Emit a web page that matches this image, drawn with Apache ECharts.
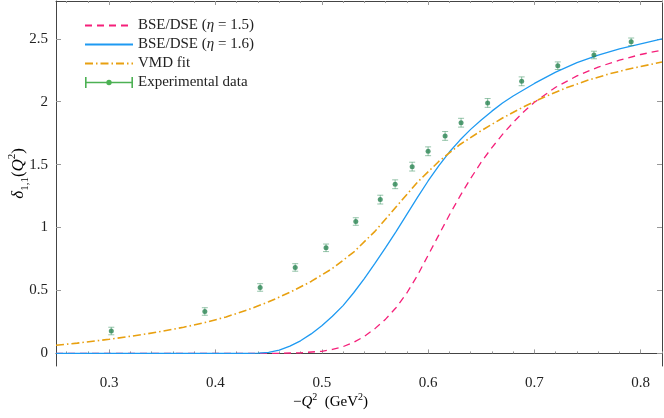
<!DOCTYPE html>
<html>
<head>
<meta charset="utf-8">
<title>delta11</title>
<script src="https://cdn.jsdelivr.net/npm/echarts@6/dist/echarts.min.js"></script>
</head>
<body style="margin:0">
<div id="main" style="width:664px;height:418px;"></div>
<script>
// tick positions
var xTicks = [0.3, 0.4, 0.5, 0.6, 0.7, 0.8];
var xMinorTicks = [0.26, 0.28, 0.32, 0.34, 0.36, 0.38, 0.42, 0.44, 0.46, 0.48, 0.52, 0.54, 0.56, 0.58,
                   0.62, 0.64, 0.66, 0.68, 0.72, 0.74, 0.76, 0.78, 0.82];
var yTicks = [0, 0.5, 1, 1.5, 2, 2.5];

// BSE/DSE eta = 1.5 (pink dashed)
var pinkX = [0.25, 0.30, 0.35, 0.40, 0.44, 0.46, 0.48, 0.50, 0.51, 0.52, 0.53, 0.54, 0.55, 0.56, 0.57, 0.58, 0.59,
             0.60, 0.61, 0.62, 0.63, 0.64, 0.65, 0.66, 0.67, 0.68, 0.69, 0.70, 0.72, 0.74, 0.76, 0.78, 0.80, 0.82];
var pinkY = [0, 0, 0, 0, 0, 0.001, 0.005, 0.017, 0.032, 0.054, 0.088, 0.135, 0.197, 0.272, 0.365, 0.48, 0.62,
             0.78, 0.94, 1.10, 1.25, 1.39, 1.52, 1.635, 1.74, 1.835, 1.92, 1.995, 2.115, 2.205, 2.275, 2.33, 2.375, 2.41];

// BSE/DSE eta = 1.6 (blue solid)
var blueX = [0.25, 0.30, 0.35, 0.40, 0.43, 0.44, 0.45, 0.46, 0.47, 0.48, 0.49, 0.50, 0.51, 0.52, 0.53, 0.54, 0.55,
             0.56, 0.57, 0.58, 0.59, 0.60, 0.61, 0.62, 0.63, 0.64, 0.65, 0.66, 0.67, 0.68, 0.69, 0.70, 0.72,
             0.74, 0.76, 0.78, 0.80, 0.82];
var blueY = [0, 0, 0, 0, 0, 0.002, 0.008, 0.026, 0.058, 0.1, 0.155, 0.22, 0.295, 0.38, 0.482, 0.595, 0.715,
             0.84, 0.97, 1.105, 1.24, 1.37, 1.49, 1.60, 1.695, 1.78, 1.855, 1.925, 1.99, 2.045, 2.095, 2.145, 2.235,
             2.31, 2.37, 2.42, 2.46, 2.50];

// VMD fit (orange dash-dot)
var vmdX = [0.25, 0.27, 0.30, 0.33, 0.35, 0.37, 0.39, 0.41, 0.43, 0.45, 0.47, 0.49, 0.51, 0.53, 0.55, 0.57,
            0.59, 0.61, 0.63, 0.65, 0.67, 0.69, 0.71, 0.73, 0.75, 0.77, 0.79, 0.82];
var vmdY = [0.065, 0.082, 0.112, 0.148, 0.176, 0.208, 0.245, 0.29, 0.345, 0.41, 0.485, 0.572, 0.675, 0.805, 0.97, 1.165,
            1.36, 1.525, 1.66, 1.77, 1.87, 1.96, 2.04, 2.11, 2.17, 2.22, 2.262, 2.315];

// Experimental data
var expX = [0.302, 0.390, 0.442, 0.475, 0.504, 0.532, 0.555, 0.569, 0.585, 0.600, 0.616, 0.631, 0.656,
            0.688, 0.722, 0.756, 0.791];
var expY = [0.178, 0.333, 0.524, 0.683, 0.839, 1.048, 1.222, 1.344, 1.484, 1.606, 1.728, 1.833, 1.990,
            2.162, 2.286, 2.371, 2.476];
var expErr = [0.03, 0.03, 0.03, 0.03, 0.03, 0.03, 0.035, 0.035, 0.035, 0.035, 0.035, 0.035, 0.035,
              0.035, 0.03, 0.03, 0.03];

function pairs(xs, ys) {
    return xs.map(function (x, i) { return [x, ys[i]]; });
}

var font = 'Liberation Serif';
var tickColor = '#999';
var lineColor = '#444';

function fmt(v) { return String(+v.toFixed(2)); }

function xAxisDef(position, values, len, labels) {
    return {
        type: 'value', min: 0.25, max: 0.82, position: position,
        axisLine: { show: labels, lineStyle: { color: lineColor, width: 1 } },
        axisTick: { show: true, inside: true, length: len, customValues: values,
                    lineStyle: { color: tickColor } },
        axisLabel: { show: labels && position === 'bottom', customValues: values, formatter: fmt,
                     fontFamily: font, fontSize: 15, color: '#222', margin: 10 },
        splitLine: { show: false }
    };
}

function yAxisDef(position, labels) {
    return {
        type: 'value', min: -0.1, max: 2.8, position: position,
        axisLine: { show: true, lineStyle: { color: lineColor, width: 1 } },
        axisTick: { show: true, inside: true, length: 5, customValues: yTicks,
                    lineStyle: { color: tickColor } },
        axisLabel: { show: labels, customValues: yTicks, formatter: fmt,
                     fontFamily: font, fontSize: 15, color: '#222', margin: 8 },
        splitLine: { show: false }
    };
}

var errData = expX.map(function (x, i) { return [x, expY[i] - expErr[i], expY[i] + expErr[i]]; });

var chart = echarts.init(document.getElementById('main'));
chart.setOption({
    animation: false,
    backgroundColor: '#fff',
    grid: { left: 56, top: 1, right: 2, bottom: 52, containLabel: false },
    xAxis: [
        xAxisDef('bottom', xTicks, 4, true),
        xAxisDef('bottom', xMinorTicks, 2, false),
        xAxisDef('top', xTicks, 4, true),
        xAxisDef('top', xMinorTicks, 2, false)
    ],
    yAxis: [yAxisDef('left', true), yAxisDef('right', false)],
    legend: {
        left: 84, top: 18, orient: 'vertical', padding: 0,
        itemWidth: 48, itemHeight: 14, itemGap: 4,
        symbolKeepAspect: true,
        textStyle: {
            fontFamily: font, fontSize: 15, color: '#222',
            rich: { i: { fontFamily: font, fontStyle: 'italic', fontSize: 15, color: '#222' } }
        },
        formatter: function (name) { return name.replace('η', '{i|η}'); },
        data: [
            { name: 'BSE/DSE (η = 1.5)', itemStyle: { opacity: 0 } },
            { name: 'BSE/DSE (η = 1.6)', itemStyle: { opacity: 0 } },
            { name: 'VMD fit', itemStyle: { opacity: 0 } },
            { name: 'Experimental data',
              icon: 'path://M0,1.5h1.6v11h-1.6z M0,6.2h48v1.6h-48z M46.4,1.5h1.6v11h-1.6z M21.3,7a2.7,2.7 0 1,1 5.4,0a2.7,2.7 0 1,1 -5.4,0z',
              itemStyle: { color: '#1f9e28' } }
        ]
    },
    graphic: [
        {
            type: 'text', left: 7, top: 148, rotation: Math.PI / 2,
            style: {
                text: '{i|δ}{s|1,1}{n|(}{i|Q}{p|2}{n|)}',
                rich: {
                    n: { fontFamily: font, fontSize: 17, color: '#222', lineHeight: 24 },
                    i: { fontFamily: font, fontStyle: 'italic', fontSize: 17, color: '#222', lineHeight: 24 },
                    s: { fontFamily: font, fontSize: 11, color: '#222', verticalAlign: 'bottom', lineHeight: 24 },
                    p: { fontFamily: font, fontSize: 11, color: '#222', verticalAlign: 'top', lineHeight: 24 }
                }
            }
        },
        {
            type: 'text', left: 293, top: 392,
            style: {
                text: '{n|−}{i|Q}{p|2}{n|  (GeV}{p|2}{n|)}',
                rich: {
                    n: { fontFamily: font, fontSize: 15, color: '#222', lineHeight: 20 },
                    i: { fontFamily: font, fontStyle: 'italic', fontSize: 15, color: '#222', lineHeight: 20 },
                    p: { fontFamily: font, fontSize: 10, color: '#222', verticalAlign: 'top', lineHeight: 20 }
                }
            }
        }
    ],
    series: [
        {
            name: 'BSE/DSE (η = 1.5)', type: 'line', data: pairs(pinkX, pinkY),
            symbol: 'none',
            lineStyle: { color: '#f5207a', width: 1.3, type: [7, 5] },
            itemStyle: { color: '#f5207a' }, z: 3
        },
        {
            name: 'BSE/DSE (η = 1.6)', type: 'line', data: pairs(blueX, blueY),
            symbol: 'none',
            lineStyle: { color: '#1e9af2', width: 1.3 },
            itemStyle: { color: '#1e9af2' }, z: 3
        },
        {
            name: 'VMD fit', type: 'line', data: pairs(vmdX, vmdY),
            symbol: 'none',
            lineStyle: { color: '#e8a010', width: 1.6, type: [8, 3, 1.5, 3] },
            itemStyle: { color: '#e8a010' }, z: 3
        },
        {
            name: 'errors', type: 'custom', data: errData,
            encode: { x: 0, y: [1, 2] }, z: 4, silent: true,
            renderItem: function (params, api) {
                var lo = api.coord([api.value(0), api.value(1)]);
                var hi = api.coord([api.value(0), api.value(2)]);
                var w = 3;
                var st = { stroke: 'rgba(46,139,87,0.5)', lineWidth: 1 };
                return {
                    type: 'group',
                    children: [
                        { type: 'line', shape: { x1: lo[0], y1: lo[1], x2: hi[0], y2: hi[1] }, style: st },
                        { type: 'line', shape: { x1: lo[0] - w, y1: lo[1], x2: lo[0] + w, y2: lo[1] }, style: st },
                        { type: 'line', shape: { x1: hi[0] - w, y1: hi[1], x2: hi[0] + w, y2: hi[1] }, style: st }
                    ]
                };
            }
        },
        {
            name: 'Experimental data', type: 'scatter', data: pairs(expX, expY),
            symbol: 'circle', symbolSize: 5,
            itemStyle: { color: '#2a8552' }, z: 5
        }
    ]
});
</script>
</body>
</html>
